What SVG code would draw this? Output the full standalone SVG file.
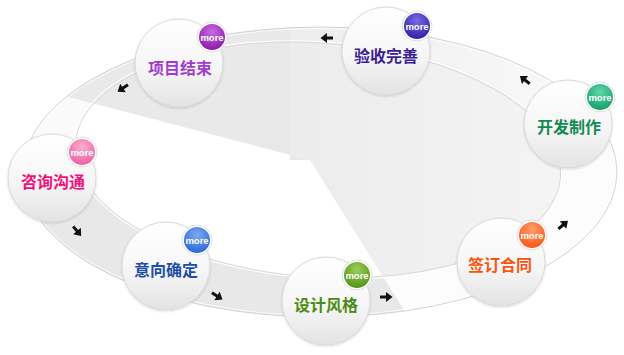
<svg xmlns="http://www.w3.org/2000/svg" width="624" height="355" viewBox="0 0 624 355">
<style>
.node-bg{fill:url(#nodeGrad);stroke:#d9d9d9;stroke-width:1;filter:url(#sh)}
.label{font-family:"Noto Sans CJK SC","Noto Sans",sans-serif;font-size:16px;font-weight:bold;text-anchor:middle}
.badge-ring{fill:#fff;stroke:#d6d6d6;stroke-width:0.8}
.more{font-family:"Liberation Sans",Arial,sans-serif;font-size:9.5px;font-weight:bold;fill:#fff;text-anchor:middle}
.arrow{fill:#111}
</style>
<defs>
<filter id="sh" x="-20%" y="-20%" width="140%" height="140%"><feDropShadow dx="0" dy="1" stdDeviation="1.2" flood-color="#000" flood-opacity="0.16"/></filter>
<linearGradient id="nodeGrad" x1="0" y1="0" x2="0" y2="1"><stop offset="0" stop-color="#ffffff"/><stop offset="0.55" stop-color="#f6f6f6"/><stop offset="1" stop-color="#e3e3e3"/></linearGradient>
<radialGradient id="bPurple" cx="0.5" cy="0.3" r="0.75"><stop offset="0" stop-color="#c56ede"/><stop offset="1" stop-color="#8a12a6"/></radialGradient>
<radialGradient id="bIndigo" cx="0.5" cy="0.3" r="0.75"><stop offset="0" stop-color="#7a6ae2"/><stop offset="1" stop-color="#2c1aa6"/></radialGradient>
<radialGradient id="bTeal" cx="0.5" cy="0.3" r="0.75"><stop offset="0" stop-color="#5fd6a8"/><stop offset="1" stop-color="#109c6a"/></radialGradient>
<radialGradient id="bPink" cx="0.5" cy="0.3" r="0.75"><stop offset="0" stop-color="#f9aed0"/><stop offset="1" stop-color="#ec5ca0"/></radialGradient>
<radialGradient id="bBlue" cx="0.5" cy="0.3" r="0.75"><stop offset="0" stop-color="#7eaaf2"/><stop offset="1" stop-color="#2464d2"/></radialGradient>
<radialGradient id="bGreen" cx="0.5" cy="0.3" r="0.75"><stop offset="0" stop-color="#9ccc5a"/><stop offset="1" stop-color="#4f9012"/></radialGradient>
<radialGradient id="bOrange" cx="0.5" cy="0.3" r="0.75"><stop offset="0" stop-color="#ffa06a"/><stop offset="1" stop-color="#fa5010"/></radialGradient>
<clipPath id="outerClip"><ellipse cx="320" cy="172" rx="297" ry="145"/></clipPath>
<clipPath id="innerClip"><ellipse cx="318" cy="160" rx="243" ry="117" transform="rotate(4 318 160)"/></clipPath>
<linearGradient id="ringGrad" gradientUnits="userSpaceOnUse" x1="0" y1="0" x2="624" y2="0"><stop offset="0" stop-color="#e8e8e8"/><stop offset="0.5" stop-color="#eeeeee"/><stop offset="1" stop-color="#fbfbfb"/></linearGradient>
<linearGradient id="innerGrad" gradientUnits="userSpaceOnUse" x1="290" y1="0" x2="560" y2="0"><stop offset="0" stop-color="#ececec"/><stop offset="1" stop-color="#f4f4f4"/></linearGradient>
<path id="arr" d="M-6,-1.5 L0,-1.5 L0,-5 L6.5,0 L0,5 L0,1.5 L-6,1.5 Z"/>
</defs>
<rect x="0" y="0" width="624" height="355" fill="#ffffff"/>
<g id="ring" clip-path="url(#outerClip)">
<rect x="0" y="0" width="624" height="355" fill="url(#ringGrad)"/>
<polygon points="310,160 -164,36 -200,180" fill="#fafafa"/>
<polygon points="310,160 500,464 800,464 800,150" fill="#fcfcfc"/>
<polygon points="310,160 -200,180 -200,500 500,464" fill="#e8e8e8"/>
<polygon points="310,160 -164,36 -164,-50 290,-50 290,160" fill="#e9e9e9"/>
</g>
<g id="inner" clip-path="url(#innerClip)">
<rect x="0" y="0" width="624" height="355" fill="url(#innerGrad)"/>
<polygon points="310,160 -164,36 -164,500 500,464" fill="#ffffff"/>
<polygon points="310,160 -164,36 -164,-50 290,-50 290,160" fill="#e9e9e9"/>
</g>
<ellipse cx="320" cy="172" rx="297" ry="145" fill="none" stroke="#d4d4d4" stroke-width="1"/>
<ellipse cx="320" cy="172" rx="295.5" ry="143.5" fill="none" stroke="#ffffff" stroke-width="1" opacity="0.8"/>
<ellipse cx="318" cy="160" rx="244.2" ry="118.2" transform="rotate(4 318 160)" fill="none" stroke="#ffffff" stroke-width="1.2"/>
<ellipse cx="318" cy="160" rx="243" ry="117" transform="rotate(4 318 160)" fill="none" stroke="#d8d8d8" stroke-width="1"/>
<g id="connectors">
<use href="#arr" class="arrow" transform="translate(123,88) rotate(146)"/>
<use href="#arr" class="arrow" transform="translate(327,38) rotate(180)"/>
<use href="#arr" class="arrow" transform="translate(525,80) rotate(219)"/>
<use href="#arr" class="arrow" transform="translate(563,225) rotate(-40)"/>
<use href="#arr" class="arrow" transform="translate(386,297)"/>
<use href="#arr" class="arrow" transform="translate(217,296) rotate(32)"/>
<use href="#arr" class="arrow" transform="translate(77,231) rotate(50)"/>
</g>
<g id="node-xiangmujieshu">
<circle class="node-bg" cx="179" cy="63" r="44"/>
<text class="label" x="180" y="74" fill="#a03ccc">项目结束</text>
<circle class="badge-ring" cx="212" cy="37" r="15"/>
<circle cx="212" cy="37" r="13" fill="url(#bPurple)"/>
<text class="more" x="212" y="40.5">more</text>
</g>
<g id="node-yanshouwanshan">
<circle class="node-bg" cx="386" cy="51" r="44"/>
<text class="label" x="386" y="62" fill="#3b1e96">验收完善</text>
<circle class="badge-ring" cx="417" cy="26" r="15"/>
<circle cx="417" cy="26" r="13" fill="url(#bIndigo)"/>
<text class="more" x="417" y="29.5">more</text>
</g>
<g id="node-kaifazhizuo">
<circle class="node-bg" cx="568" cy="124" r="44"/>
<text class="label" x="569" y="133" fill="#138a55">开发制作</text>
<circle class="badge-ring" cx="600" cy="97" r="15"/>
<circle cx="600" cy="97" r="13" fill="url(#bTeal)"/>
<text class="more" x="600" y="100.5">more</text>
</g>
<g id="node-zixungoutong">
<circle class="node-bg" cx="52" cy="178" r="44"/>
<text class="label" x="53" y="188" fill="#f0127a">咨询沟通</text>
<circle class="badge-ring" cx="82" cy="152" r="15"/>
<circle cx="82" cy="152" r="13" fill="url(#bPink)"/>
<text class="more" x="82" y="155.5">more</text>
</g>
<g id="node-yixiangqueding">
<circle class="node-bg" cx="166" cy="266" r="44"/>
<text class="label" x="166" y="276" fill="#1d4fa8">意向确定</text>
<circle class="badge-ring" cx="197" cy="240" r="15"/>
<circle cx="197" cy="240" r="13" fill="url(#bBlue)"/>
<text class="more" x="197" y="243.5">more</text>
</g>
<g id="node-shejifengge">
<circle class="node-bg" cx="326" cy="301" r="44"/>
<text class="label" x="326" y="311" fill="#4b8b14">设计风格</text>
<circle class="badge-ring" cx="357" cy="275" r="15"/>
<circle cx="357" cy="275" r="13" fill="url(#bGreen)"/>
<text class="more" x="357" y="278.5">more</text>
</g>
<g id="node-qiandinghetong">
<circle class="node-bg" cx="501" cy="262" r="44"/>
<text class="label" x="500" y="271" fill="#f5560f">签订合同</text>
<circle class="badge-ring" cx="532" cy="235" r="15"/>
<circle cx="532" cy="235" r="13" fill="url(#bOrange)"/>
<text class="more" x="532" y="238.5">more</text>
</g>
</svg>
